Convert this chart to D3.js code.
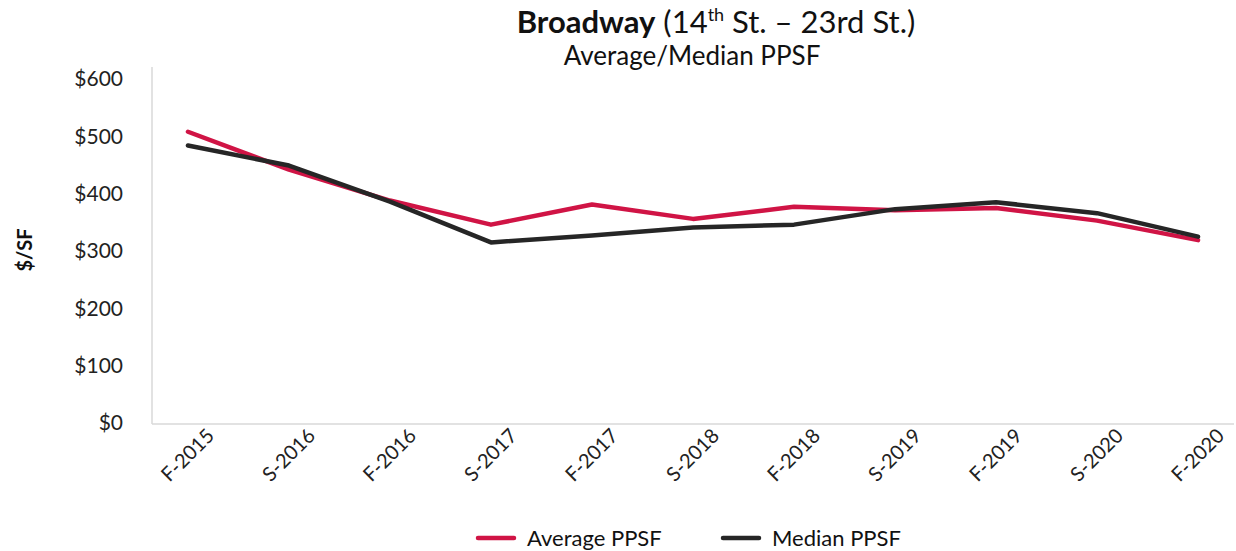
<!DOCTYPE html>
<html>
<head>
<meta charset="utf-8">
<script src="https://cdn.jsdelivr.net/npm/d3@7"></script>
<style>
  html, body { margin: 0; padding: 0; background: #fff; }
  svg { display: block; font-family: Lato, "Open Sans", sans-serif; }
</style>
</head>
<body>
<svg id="chart" width="1236" height="551"></svg>
<script>
const categories = ["F-2015","S-2016","F-2016","S-2017","F-2017","S-2018","F-2018","S-2019","F-2019","S-2020","F-2020"];
const averagePPSF = [508, 442, 388, 346, 381, 356, 377, 371, 375, 353, 319];
const medianPPSF  = [484, 449, 386, 315, 327, 341, 346, 373, 385, 366, 325];
const yTicks = [0, 100, 200, 300, 400, 500, 600];
const seriesNames = ["Average PPSF", "Median PPSF"];
const seriesColors = ["#d01445", "#262626"];

const svg = d3.select("#chart");
const plotLeft = 152, plotRight = 1234, plotTop = 79, plotBottom = 423;

const x = d3.scalePoint().domain(categories).range([plotLeft, plotRight]).padding(0.356);
const y = d3.scaleLinear().domain([0, 600]).range([plotBottom, plotTop]);

// axis frame
svg.append("line").attr("x1", plotLeft).attr("x2", plotLeft).attr("y1", 67).attr("y2", plotBottom + 1)
  .attr("stroke", "#d9d9d9").attr("stroke-width", 1.5);
svg.append("line").attr("x1", plotLeft).attr("x2", plotRight).attr("y1", plotBottom + 1).attr("y2", plotBottom + 1)
  .attr("stroke", "#d9d9d9").attr("stroke-width", 1.5);

// y axis labels
const yAxis = d3.axisLeft(y).tickValues(yTicks).tickFormat(d => "$" + d).tickSize(0).tickPadding(0);
const gy = svg.append("g").attr("transform", `translate(${123},0)`).call(yAxis);
gy.select(".domain").remove();
gy.selectAll("text").attr("font-size", 21).attr("fill", "#222").attr("font-family", "Lato");

// x axis labels
const xAxis = d3.axisBottom(x).tickSize(0).tickPadding(0);
const gx = svg.append("g").attr("transform", `translate(0,${plotBottom})`).call(xAxis);
gx.select(".domain").remove();
gx.selectAll("text")
  .attr("font-size", 20).attr("fill", "#222").attr("font-family", "Lato")
  .attr("text-anchor", "end")
  .attr("dy", 0).attr("y", 0)
  .attr("transform", "translate(27,14) rotate(-45)");

// lines
const line = d3.line().x((d, i) => x(categories[i])).y(d => y(d));
[averagePPSF, medianPPSF].forEach((vals, k) => {
  svg.append("path").datum(vals).attr("d", line)
    .attr("fill", "none").attr("stroke", seriesColors[k]).attr("stroke-width", 4.5)
    .attr("stroke-linejoin", "round").attr("stroke-linecap", "round");
});

// titles
const title = svg.append("text").attr("x", 716).attr("y", 33).attr("text-anchor", "middle")
  .attr("font-size", 31).attr("fill", "#111").attr("font-family", "Lato");
title.append("tspan").attr("font-weight", "bold").text("Broadway");
title.append("tspan").text(" (14");
title.append("tspan").attr("font-size", 18).attr("dy", -12).text("th");
title.append("tspan").attr("dy", 12).text(" St. \u2013 23rd St.)");

svg.append("text").attr("x", 692).attr("y", 65).attr("text-anchor", "middle")
  .attr("font-size", 26).attr("fill", "#111").attr("font-family", "Lato").text("Average/Median PPSF");

// y axis title
svg.append("text").attr("transform", "translate(32,250) rotate(-90)").attr("text-anchor", "middle")
  .attr("font-size", 20).attr("font-weight", "bold").attr("fill", "#111").attr("font-family", "Lato").text("$/SF");

// legend
const legendX = [478, 723];
seriesNames.forEach((name, k) => {
  const g = svg.append("g").attr("transform", `translate(${legendX[k]},538)`);
  g.append("line").attr("x1", 0).attr("x2", 36).attr("y1", 0).attr("y2", 0)
    .attr("stroke", seriesColors[k]).attr("stroke-width", 4.5).attr("stroke-linecap", "round");
  g.append("text").attr("x", 49).attr("y", 8).attr("font-size", 22).attr("fill", "#111")
    .attr("font-family", "Lato").text(name);
});
</script>
</body>
</html>
